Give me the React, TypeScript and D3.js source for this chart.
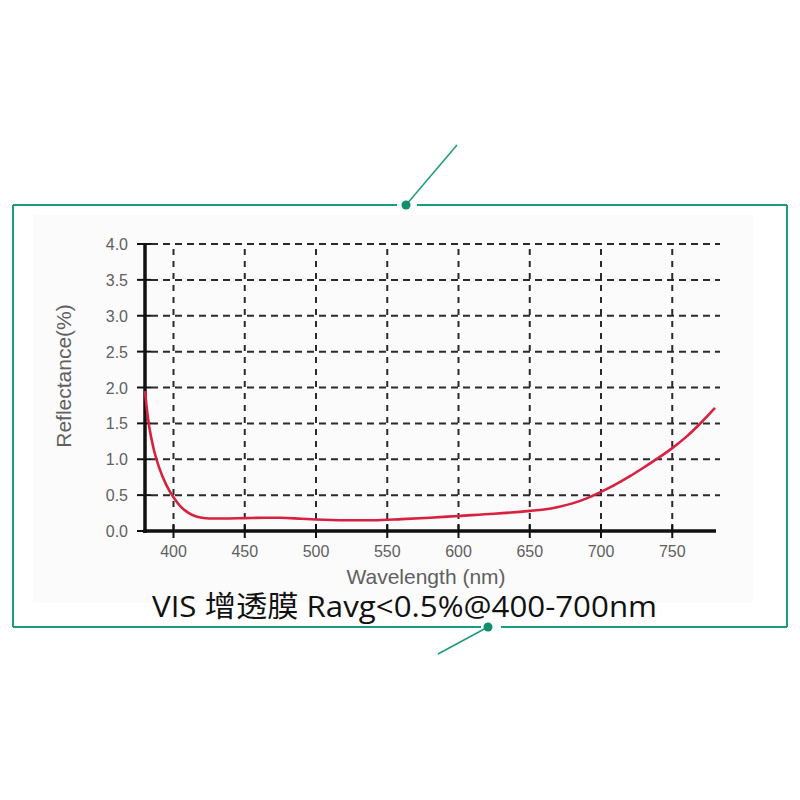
import React from "react";
import * as d3 from "d3";

const wavelengths = [380, 381, 383, 386, 390, 395, 400, 405, 410, 415, 420, 425, 435, 450, 465, 475, 490, 500, 520, 540, 560, 580, 600, 625, 650, 660, 670, 680, 690, 700, 710, 720, 730, 740, 750, 760, 770, 780];
const reflectance = [1.95, 1.75, 1.45, 1.15, 0.88, 0.64, 0.47, 0.34, 0.26, 0.21, 0.185, 0.175, 0.175, 0.18, 0.185, 0.185, 0.17, 0.16, 0.15, 0.15, 0.165, 0.185, 0.21, 0.24, 0.28, 0.3, 0.335, 0.385, 0.455, 0.545, 0.645, 0.76, 0.885, 1.015, 1.155, 1.315, 1.505, 1.715];
const xTicks = [400, 450, 500, 550, 600, 650, 700, 750];
const yTicks = [0, 0.5, 1, 1.5, 2, 2.5, 3, 3.5, 4];
const title = "VIS 增透膜 Ravg<0.5%@400-700nm";
const xLabel = "Wavelength (nm)";
const yLabel = "Reflectance(%)";

export default function App() {
  const x = d3.scaleLinear().domain([380, 780]).range([145, 715]);
  const y = d3.scaleLinear().domain([0, 4]).range([531, 244]);
  const data = wavelengths.map((w, i) => [w, reflectance[i]] as [number, number]);
  const line = d3
    .line<[number, number]>()
    .x((d) => x(d[0]))
    .y((d) => y(d[1]))
    .curve(d3.curveMonotoneX);
  const green = "#1b9c7c";
  const grid = "#2a2a2a";
  const gray = "#606060";
  const font = "Liberation Sans, Arial, sans-serif";
  const gridRight = 720;
  return (
    <svg width={800} height={800} style={{ position: "absolute", left: 0, top: 0 }}>
      <rect x={0} y={0} width={800} height={800} fill="#ffffff" />
      <rect x={33} y={215} width={720} height={388} fill="#fbfbfb" />
      {/* frame */}
      <g stroke={green} strokeWidth={2} fill="none">
        <line x1={13} y1={205} x2={397} y2={205} />
        <line x1={417} y1={205} x2={787} y2={205} />
        <line x1={787} y1={205} x2={787} y2={627} />
        <line x1={787} y1={627} x2={501} y2={627} />
        <line x1={481} y1={627} x2={13} y2={627} />
        <line x1={13} y1={627} x2={13} y2={205} />
        <line x1={406} y1={205} x2={457} y2={145} strokeWidth={1.5} />
        <line x1={488} y1={627} x2={438} y2={654} strokeWidth={1.5} />
      </g>
      <circle cx={406} cy={205} r={4.5} fill="#0f8f6d" />
      <circle cx={488} cy={627} r={4.5} fill="#0f8f6d" />
      {/* grid */}
      <g stroke={grid} strokeWidth={2} strokeDasharray="7 5">
        {yTicks.filter((t) => t > 0).map((t) => (
          <line key={"h" + t} x1={151} x2={gridRight} y1={y(t)} y2={y(t)} />
        ))}
        {xTicks.map((t) => (
          <line key={"v" + t} x1={x(t)} x2={x(t)} y1={y(0)} y2={y(4)} strokeDasharray="6 6" />
        ))}
      </g>
      {/* tick crosses */}
      <g stroke="#111" strokeWidth={2}>
        {yTicks.map((t) => (
          <line key={"yt" + t} x1={137} x2={151} y1={y(t)} y2={y(t)} />
        ))}
        {xTicks.map((t) => (
          <line key={"xt" + t} x1={x(t)} x2={x(t)} y1={y(0) - 7} y2={y(0) + 7} />
        ))}
      </g>
      {/* axes */}
      <line x1={145} x2={145} y1={y(4) - 1} y2={y(0) + 2} stroke="#111" strokeWidth={3.5} />
      <line x1={143} x2={716} y1={y(0)} y2={y(0)} stroke="#111" strokeWidth={3.5} />
      {/* curve */}
      <path d={line(data) || ""} fill="none" stroke="#d8213f" strokeWidth={2.6} />
      {/* tick labels */}
      <g fill={gray} fontFamily={font} fontSize={16}>
        {yTicks.map((t) => (
          <text key={"yl" + t} x={128} y={y(t) + 6} textAnchor="end">
            {t.toFixed(1)}
          </text>
        ))}
        {xTicks.map((t) => (
          <text key={"xl" + t} x={x(t)} y={557} textAnchor="middle">
            {t}
          </text>
        ))}
      </g>
      <text x={426} y={584} textAnchor="middle" fill={gray} fontFamily={font} fontSize={21}>
        {xLabel}
      </text>
      <text
        transform={`translate(71, 376) rotate(-90)`}
        textAnchor="middle"
        fill={gray}
        fontFamily={font}
        fontSize={21}
      >
        {yLabel}
      </text>
      <text
        x={152}
        y={617}
        textLength={505}
        lengthAdjust="spacingAndGlyphs"
        fill="#111"
        fontFamily="'Open Sans', 'Noto Sans CJK SC', sans-serif"
        fontSize={29}
      >
        {title}
      </text>
    </svg>
  );
}
